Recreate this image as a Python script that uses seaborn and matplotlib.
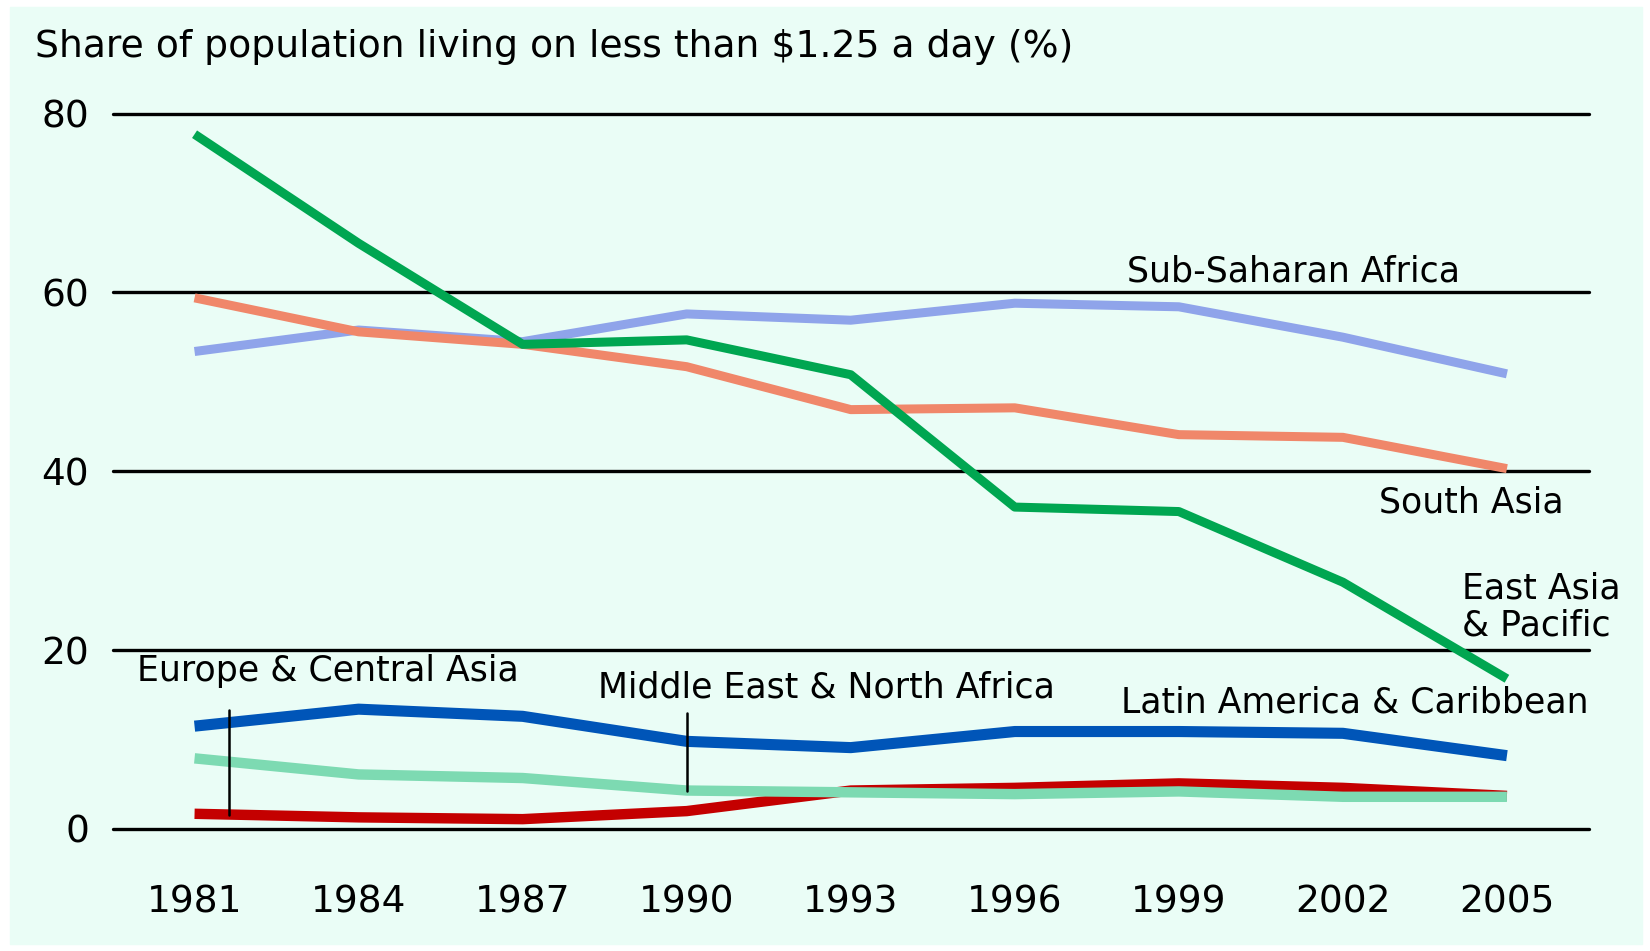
import numpy as np
import pandas as pd
import matplotlib
matplotlib.use('Agg')
import matplotlib.pyplot as plt
import seaborn as sns

# data (share of population below $1.25/day, %)
years = [1981, 1984, 1987, 1990, 1993, 1996, 1999, 2002, 2005]
east_asia = [77.7, 65.5, 54.2, 54.7, 50.8, 36.0, 35.5, 27.6, 16.8]
south_asia = [59.4, 55.6, 54.2, 51.7, 46.9, 47.1, 44.1, 43.8, 40.3]
sub_saharan = [53.4, 55.8, 54.5, 57.6, 56.9, 58.8, 58.4, 55.0, 50.9]
latin_america = [11.5, 13.4, 12.6, 9.8, 9.1, 10.9, 10.9, 10.7, 8.2]
middle_east = [7.9, 6.1, 5.7, 4.3, 4.1, 3.9, 4.2, 3.6, 3.6]
europe_ca = [1.7, 1.3, 1.1, 2.0, 4.3, 4.6, 5.1, 4.6, 3.7]
y_ticks = [0, 20, 40, 60, 80]

series = {
    'Sub-Saharan Africa': sub_saharan,
    'South Asia': south_asia,
    'East Asia & Pacific': east_asia,
    'Europe & Central Asia': europe_ca,
    'Middle East & North Africa': middle_east,
    'Latin America & Caribbean': latin_america,
}
colors = {
    'Sub-Saharan Africa': '#8FA4EA',
    'South Asia': '#F0876A',
    'East Asia & Pacific': '#00A651',
    'Europe & Central Asia': '#C40000',
    'Middle East & North Africa': '#7DDAB2',
    'Latin America & Caribbean': '#0055B8',
}
widths = {
    'Sub-Saharan Africa': 6.5,
    'South Asia': 6.5,
    'East Asia & Pacific': 6.5,
    'Europe & Central Asia': 7.5,
    'Middle East & North Africa': 7.5,
    'Latin America & Caribbean': 8.0,
}

df = pd.concat([pd.DataFrame({'year': years, 'share': v, 'region': k})
                for k, v in series.items()])

sns.set_style('white')
plt.rcParams['font.family'] = ['DejaVu Sans']
plt.rcParams['text.color'] = 'black'
plt.rcParams['xtick.color'] = 'black'
plt.rcParams['ytick.color'] = 'black'

bg = '#EAFDF6'
fig = plt.figure(figsize=(16.5, 9.51), dpi=100)
fig.patch.set_facecolor('white')
fig.patches.append(plt.Rectangle((10 / 1650, 7 / 951), 1632 / 1650, 937 / 951,
                                 transform=fig.transFigure, color=bg, zorder=-10))

ax = fig.add_axes([0.0682, 0.1283, 0.8948, 0.7522])
ax.set_facecolor('none')

for h in y_ticks:
    ax.axhline(h, color='black', lw=2.4, zorder=1, clip_on=False)

for region in series:
    sns.lineplot(data=df[df['region'] == region], x='year', y='share',
                 color=colors[region], lw=widths[region], ax=ax,
                 solid_capstyle='butt', zorder=3, clip_on=False)

ax.set_xlim(1979.5, 2006.5)
ax.set_ylim(0, 80)
ax.set_xticks(years)
ax.set_xticklabels([str(y) for y in years])
ax.set_yticks(y_ticks)
ax.tick_params(axis='x', length=0, pad=40, labelsize=27)
ax.tick_params(axis='y', length=0, pad=17, labelsize=27)
ax.set_xlabel('')
ax.set_ylabel('')
for s in ax.spines.values():
    s.set_visible(False)
if ax.get_legend():
    ax.get_legend().remove()

fs = 25
ax.text(1998.05, 62.3, 'Sub-Saharan Africa', fontsize=fs, va='center')
ax.text(2002.66, 36.5, 'South Asia', fontsize=fs, va='center')
ax.text(2004.18, 24.8, 'East Asia\n& Pacific', fontsize=fs, va='center',
        linespacing=1.1)
ax.text(1997.95, 14.1, 'Latin America & Caribbean', fontsize=fs, va='center')
ax.text(1988.37, 15.8, 'Middle East & North Africa', fontsize=fs, va='center')
ax.text(1979.95, 17.7, 'Europe & Central Asia', fontsize=fs, va='center')

# leader lines from labels to lines
ax.plot([1981.63, 1981.63], [13.3, 1.6], color='black', lw=1.8, zorder=4)
ax.plot([1990.0, 1990.0], [13.0, 4.25], color='black', lw=1.8, zorder=4)

fig.text(35 / 1650, 1 - 47 / 951, 'Share of population living on less than $1.25 a day (%)',
         fontsize=27.2, va='center', ha='left')

plt.savefig('out.png', dpi=100, facecolor='white')
